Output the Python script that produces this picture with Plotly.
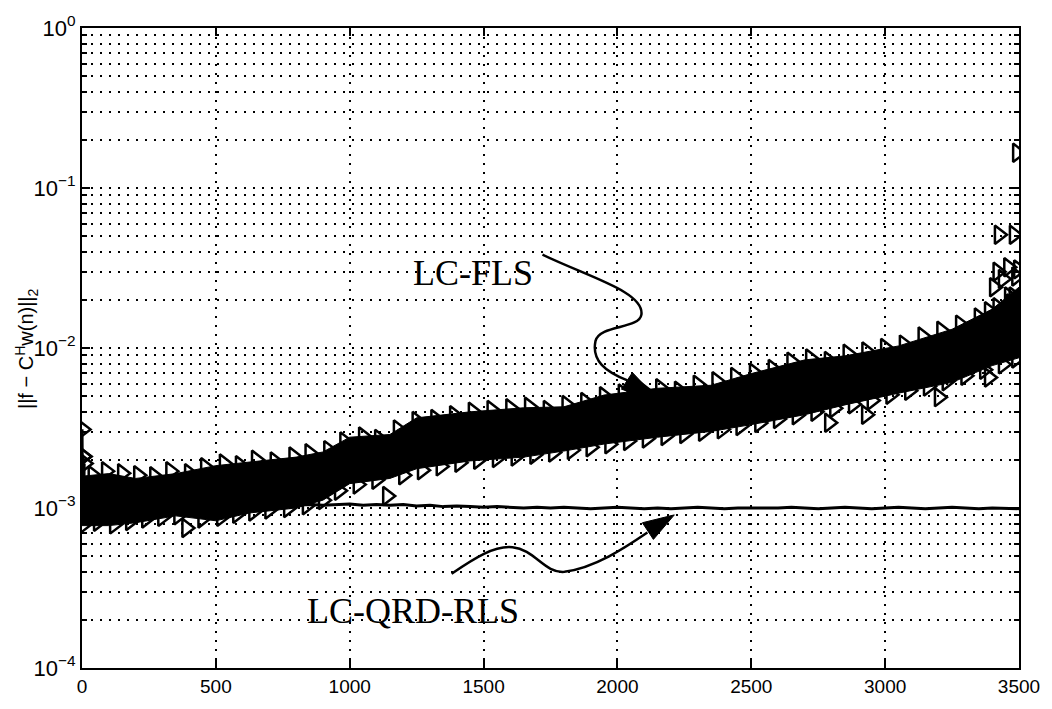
import plotly.graph_objects as go

# ---------------- data ----------------
# LC-FLS: dense band of samples -> upper / lower envelope of the band
fls_env_n = [0, 100, 200, 350, 500, 625, 800, 900, 1000, 1150, 1250, 1450,
             1650, 1800, 1950, 2150, 2350, 2500, 2700, 2850, 3050, 3250, 3400, 3500]
fls_env_upper = [0.00158, 0.00164, 0.00153, 0.00164, 0.00184, 0.00194, 0.00208, 0.00224,
                 0.00277, 0.00288, 0.00366, 0.00399, 0.00423, 0.00429, 0.00508, 0.00560,
                 0.00585, 0.00692, 0.00843, 0.00893, 0.0103, 0.0131, 0.0175, 0.0240]
fls_env_lower = [0.000776, 0.000776, 0.000809, 0.000893, 0.000832, 0.000931, 0.00100, 0.00112,
                 0.00142, 0.00153, 0.00176, 0.00197, 0.00208, 0.00227, 0.00251, 0.00277,
                 0.00301, 0.00332, 0.00383, 0.00441, 0.00522, 0.00610, 0.00776, 0.00869]

# LC-FLS samples visible along the top edge of the band
fls_up_n = [5, 40, 90, 150, 210, 270, 330, 400, 460, 530, 590, 650, 720, 790, 850, 920, 980,
            1050, 1110, 1180, 1250, 1320, 1390, 1460, 1530, 1600, 1670, 1740, 1810, 1880, 1950,
            2020, 2090, 2160, 2230, 2300, 2370, 2440, 2510, 2580, 2650, 2720, 2790, 2860, 2930,
            3000, 3070, 3140, 3210, 3280, 3350, 3420, 3480]
fls_up_v = [0.0021, 0.0016, 0.0017, 0.00165, 0.0016, 0.00158, 0.0017, 0.00165, 0.0018, 0.0019,
            0.00185, 0.0020, 0.00195, 0.0021, 0.0022, 0.0023, 0.0026, 0.0028, 0.0027, 0.0031,
            0.0035, 0.0036, 0.0038, 0.0040, 0.0041, 0.0042, 0.0043, 0.0041, 0.0044, 0.0046,
            0.0050, 0.0052, 0.0055, 0.0056, 0.0054, 0.0059, 0.0062, 0.0066, 0.0070, 0.0074,
            0.0082, 0.0086, 0.0083, 0.0092, 0.0095, 0.0100, 0.0105, 0.0118, 0.0128, 0.0140,
            0.0155, 0.0180, 0.0210]
# LC-FLS samples visible along the bottom edge of the band
fls_lo_n = [10, 60, 120, 180, 240, 300, 360, 390, 450, 520, 580, 640, 700, 770, 840, 900, 960,
            1030, 1100, 1140, 1200, 1270, 1340, 1410, 1480, 1550, 1620, 1690, 1760, 1830, 1900,
            1970, 2040, 2110, 2180, 2250, 2320, 2390, 2460, 2530, 2600, 2670, 2740, 2791, 2810,
            2880, 2929, 2950, 3020, 3090, 3160, 3201, 3230, 3300, 3370, 3388, 3440, 3490]
fls_lo_v = [0.00080, 0.00082, 0.00079, 0.00083, 0.00086, 0.00088, 0.00090, 0.00075, 0.00086,
            0.00088, 0.00092, 0.00095, 0.00098, 0.00100, 0.00104, 0.00112, 0.00128, 0.00140,
            0.00150, 0.00119, 0.00160, 0.00172, 0.00182, 0.00192, 0.00200, 0.00205, 0.00210,
            0.00215, 0.00222, 0.00230, 0.00240, 0.00250, 0.00262, 0.00272, 0.00282, 0.00290,
            0.00300, 0.00310, 0.00325, 0.00340, 0.00360, 0.00380, 0.00400, 0.00341, 0.00420,
            0.00445, 0.00383, 0.00470, 0.00510, 0.00540, 0.00575, 0.00493, 0.00620, 0.00670,
            0.00730, 0.00655, 0.00790, 0.00860]
# LC-FLS isolated large samples at the end of the run
fls_out_n = [3388, 3407, 3420, 3425, 3440, 3460, 3463, 3470, 3481, 3490, 3493, 3497]
fls_out_v = [0.017, 0.024, 0.030, 0.051, 0.027, 0.032, 0.021, 0.019, 0.051, 0.028, 0.166, 0.031]
# LC-FLS first samples (initial spike)
fls_start_n = [0, 2, 4, 6, 8, 10]
fls_start_v = [0.0011, 0.0031, 0.0009, 0.0021, 0.0010, 0.0019]

# LC-QRD-RLS: one sample every 50 iterations
qrd_n = list(range(0, 3501, 50))
qrd_v = [0.00100, 0.00101, 0.00099, 0.00100, 0.00102, 0.00101, 0.00100, 0.00102, 0.00101,
         0.00103, 0.00102, 0.00103, 0.00104, 0.00103, 0.00104, 0.00105, 0.00104, 0.00105,
         0.00104, 0.00105, 0.00106, 0.00104, 0.00105, 0.00104, 0.00105, 0.00103, 0.00104,
         0.00102, 0.00103, 0.00102, 0.00101, 0.00102, 0.00101, 0.00100, 0.00101, 0.00100,
         0.00101, 0.00100, 0.00099, 0.00100, 0.00101, 0.00100, 0.00099, 0.00100, 0.00099,
         0.00100, 0.00101, 0.00100, 0.00099, 0.00100, 0.00100, 0.00099, 0.00100, 0.00101,
         0.00100, 0.00099, 0.00100, 0.00101, 0.00100, 0.00099, 0.00100, 0.00101, 0.00100,
         0.00099, 0.00100, 0.00101, 0.00100, 0.00099, 0.00100, 0.00100, 0.00099]

x_tick_vals = [0, 500, 1000, 1500, 2000, 2500, 3000, 3500]
y_tick_vals = [1e-4, 1e-3, 1e-2, 1e-1, 1]
y_tick_text = ["10<sup>−4</sup>", "10<sup>−3</sup>", "10<sup>−2</sup>", "10<sup>−1</sup>", "10<sup>0</sup>"]
y_minor_vals = [k * 10.0 ** e for e in (-4, -3, -2, -1) for k in range(2, 10)]

label_fls = "LC-FLS"
label_qrd = "LC-QRD-RLS"
y_title = "||f − C<sup>H</sup>w(n)||<sub>2</sub>"

# ---------------- figure ----------------
W, H = 1052, 709
L, R, T, B = 82, 1020, 26, 678

fig = go.Figure()

mk = dict(symbol="triangle-right-open", size=16, color="black", line=dict(width=2.5, color="black"))

fig.add_trace(go.Scatter(x=fls_env_n, y=fls_env_upper, mode="lines",
                         line=dict(color="black", width=1), hoverinfo="skip"))
fig.add_trace(go.Scatter(x=fls_env_n, y=fls_env_lower, mode="lines", fill="tonexty",
                         fillcolor="black", line=dict(color="black", width=1), hoverinfo="skip"))
fig.add_trace(go.Scatter(x=qrd_n, y=qrd_v, mode="lines", line=dict(color="black", width=3)))
fig.add_trace(go.Scatter(x=fls_up_n, y=fls_up_v, mode="markers", marker=mk))
fig.add_trace(go.Scatter(x=fls_lo_n, y=fls_lo_v, mode="markers", marker=mk))
fig.add_trace(go.Scatter(x=fls_out_n, y=fls_out_v, mode="markers", marker=mk))
fig.add_trace(go.Scatter(x=fls_start_n, y=fls_start_v, mode="lines+markers",
                         line=dict(color="black", width=2), marker=mk))

grid_dash = "2px,7px"
x_tick_font = dict(family="Liberation Sans, Arial, sans-serif", size=19, color="black")
y_tick_font = dict(family="Liberation Sans, Arial, sans-serif", size=22, color="black")

fig.update_xaxes(range=[0, 3500], tickvals=x_tick_vals, ticks="inside", ticklen=8,
                 tickwidth=1.5, tickcolor="black", showline=True, linewidth=2, linecolor="black",
                 mirror="ticks", showgrid=True, gridcolor="black", gridwidth=1.5,
                 griddash=grid_dash, zeroline=False, tickfont=x_tick_font)
fig.update_yaxes(type="log", range=[-4, 0], tickvals=y_tick_vals, ticktext=y_tick_text,
                 ticks="inside", ticklen=8, tickwidth=1.5, tickcolor="black",
                 showline=True, linewidth=2, linecolor="black", mirror="ticks",
                 showgrid=True, gridcolor="black", gridwidth=1.5, griddash=grid_dash,
                 zeroline=False, tickfont=y_tick_font,
                 minor=dict(tickvals=y_minor_vals, ticks="inside", ticklen=5, tickwidth=1.5,
                            tickcolor="black", showgrid=True, gridcolor="black", gridwidth=1.5,
                            griddash=grid_dash))


def px2paper(px, py):
    return (px - L) / (R - L), (B - py) / (B - T)


def path_from(cmds):
    out = []
    for c, pts in cmds:
        coords = " ".join("%.5f,%.5f" % px2paper(*p) for p in pts)
        out.append(c + " " + coords if coords else c)
    return " ".join(out)


arrow_fls = path_from([("M", [(543, 257)]),
                       ("C", [(590, 280), (645, 295), (642, 318)]),
                       ("C", [(640, 333), (600, 328), (596, 345)]),
                       ("C", [(592, 365), (606, 376), (628, 385)])])
head_fls = path_from([("M", [(660, 406)]), ("L", [(622, 394)]), ("L", [(633, 377)]), ("Z", [])])
arrow_qrd = path_from([("M", [(452, 582)]),
                       ("C", [(475, 566), (495, 553), (513, 555)]),
                       ("C", [(535, 557), (545, 582), (565, 580)]),
                       ("C", [(595, 576), (625, 556), (648, 540)])])
head_qrd = path_from([("M", [(675, 522)]), ("L", [(654, 547)]), ("L", [(643, 530)]), ("Z", [])])

shapes = [
    dict(type="path", xref="paper", yref="paper", path=arrow_fls, line=dict(color="black", width=2.5)),
    dict(type="path", xref="paper", yref="paper", path=head_fls, fillcolor="black",
         line=dict(color="black", width=1)),
    dict(type="path", xref="paper", yref="paper", path=arrow_qrd, line=dict(color="black", width=2.5)),
    dict(type="path", xref="paper", yref="paper", path=head_qrd, fillcolor="black",
         line=dict(color="black", width=1)),
]

fx, fy = px2paper(473, 276)
qx, qy = px2paper(413, 620)
tx, ty = px2paper(27, 353)
serif = dict(family="Liberation Serif, Times New Roman, serif", size=36, color="black")
annotations = [
    dict(x=fx, y=fy, xref="paper", yref="paper", text=label_fls, showarrow=False,
         xanchor="center", yanchor="middle", font=serif),
    dict(x=qx, y=qy, xref="paper", yref="paper", text=label_qrd, showarrow=False,
         xanchor="center", yanchor="middle", font=serif),
    dict(x=tx, y=ty, xref="paper", yref="paper", text=y_title, showarrow=False,
         textangle=-90, xanchor="center", yanchor="middle",
         font=dict(family="Liberation Sans, Arial, sans-serif", size=20, color="black")),
]

fig.update_layout(width=W, height=H, margin=dict(l=L, r=W - R, t=T, b=H - B),
                  paper_bgcolor="white", plot_bgcolor="white", showlegend=False,
                  shapes=shapes, annotations=annotations)

fig.write_html("out.html")
